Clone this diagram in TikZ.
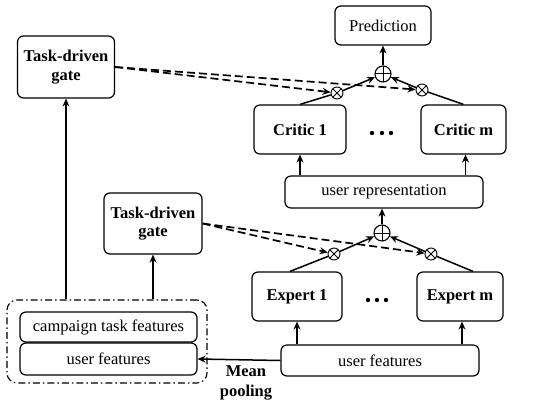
\documentclass[tikz,border=0pt]{standalone}
\usepackage{fontspec}
\setmainfont{Liberation Serif}
\usetikzlibrary{arrows.meta,calc}
\begin{document}
\begin{tikzpicture}[x=1pt,y=-1pt,
  every node/.style={font=\fontsize{16.5}{18.5}\selectfont},
  blk/.style={draw,line width=1.2pt,rounded corners=6pt,inner sep=0pt,align=center},
  bblk/.style={blk,font=\fontsize{16.5}{18.5}\selectfont\bfseries},
  opl/.style={draw,circle,line width=1.1pt,minimum size=16pt,inner sep=0pt,
    path picture={\draw[line width=1pt] (path picture bounding box.north) -- (path picture bounding box.south)
      (path picture bounding box.west) -- (path picture bounding box.east);}},
  otm/.style={draw,circle,line width=0.9pt,minimum size=12pt,inner sep=0pt,
    path picture={\draw[line width=0.8pt] (path picture bounding box.north west) -- (path picture bounding box.south east)
      (path picture bounding box.south west) -- (path picture bounding box.north east);}},
  arr/.style={line width=1.5pt,-{Stealth[length=8pt,width=7pt]}},
  ln/.style={line width=1.5pt},
  dsh/.style={line width=1.7pt,dash pattern=on 8pt off 4pt,-{Stealth[length=8pt,width=7pt,open]}},
]
\useasboundingbox (0,0) rectangle (536,412);

% top part
\node[blk,minimum width=96pt,minimum height=39pt] (pred) at (383,25.5) {Prediction};
\node[opl] (opT) at (383,74) {};
\node[bblk,minimum width=92pt,minimum height=49pt] (c1) at (300,129.5) {Critic 1};
\node[bblk,minimum width=85pt,minimum height=49pt] (cm) at (463.5,129.5) {Critic m};
\node[otm] (xT1) at (337,93) {};
\node[otm] (xTm) at (422,90) {};
\node[blk,minimum width=198pt,minimum height=32pt] (ur) at (384,192) {user representation};
\foreach \x in {372,382,391} \fill (\x,133) circle (2.2);

% bottom part
\node[opl] (opB) at (382,233) {};
\node[bblk,minimum width=90pt,minimum height=49pt] (e1) at (297,296.5) {Expert 1};
\node[bblk,minimum width=86pt,minimum height=49pt] (em) at (460,296.5) {Expert m};
\node[otm] (xB1) at (334,254) {};
\node[otm] (xBm) at (431,254) {};
\node[blk,minimum width=198pt,minimum height=31pt] (ufR) at (380,360.5) {user features};
\foreach \x in {368,377,386} \fill (\x,300) circle (2.2);

% left part
\node[draw,line width=1.1pt,rounded corners=10pt,dash pattern=on 7pt off 3pt on 1.5pt off 3pt,
  minimum width=200pt,minimum height=83pt] (grp) at (107,341.5) {};
\node[blk,minimum width=177pt,minimum height=30pt] (ctf) at (108.5,327) {campaign task features};
\node[blk,minimum width=177pt,minimum height=32pt] (ufL) at (108.5,359) {user features};
\node[bblk,minimum width=97pt,minimum height=62pt] (g1) at (66,67) {Task-driven\\gate};
\node[bblk,minimum width=98pt,minimum height=61pt] (g2) at (153,223.5) {Task-driven\\gate};
\node[font=\fontsize{16.5}{20.5}\selectfont\bfseries,align=center] (mp) at (246,383) {Mean\\pooling};

% connectors top
\draw[ln] (c1.north) -- (xT1);
\draw[ln] (cm.north) -- (xTm);
\draw[arr] (xT1) -- (opT);
\draw[arr] (xTm) -- (opT);
\draw[arr] (opT) -- (pred);
\draw[arr] (opB) -- (opB |- ur.south);
\draw[arr] (c1.south |- ur.north) -- (c1.south);
\draw[arr] ([xshift=2pt]cm.south |- ur.north) -- ([xshift=2pt]cm.south);

% connectors bottom
\draw[ln] ([xshift=-7pt]e1.north) -- (xB1);
\draw[ln] ([xshift=13pt]em.north) -- (xBm);
\draw[arr] (xB1) -- (opB);
\draw[arr] (xBm) -- (opB);
\draw[arr] (e1.south |- ufR.north) -- (e1.south);
\draw[arr] ([xshift=2pt]em.south |- ufR.north) -- ([xshift=2pt]em.south);
\draw[arr] (ufR.west) -- (ufL.east);

% left connectors
\draw[arr] (g1.south |- grp.north) -- (g1.south);
\draw[arr] (g2.south |- grp.north) -- (g2.south);

% dashed gate lines
\draw[dsh] (g1.east) -- (xT1);
\draw[dsh] (g1.east) -- (xTm);
\draw[dsh] (g2.east) -- (xB1);
\draw[dsh] (g2.east) -- (xBm);
\end{tikzpicture}
\end{document}
